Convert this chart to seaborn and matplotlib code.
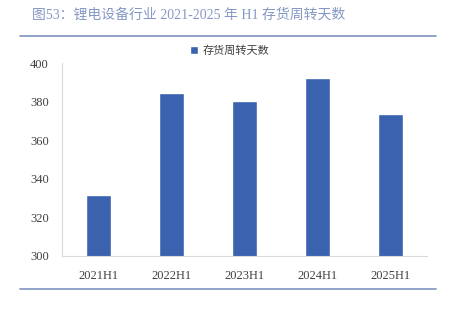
import matplotlib
matplotlib.use("Agg")
import matplotlib.pyplot as plt
import seaborn as sns
import pandas as pd
from matplotlib.lines import Line2D

categories = ["2021H1", "2022H1", "2023H1", "2024H1", "2025H1"]
values = [331.6, 384.6, 380.4, 392.3, 373.6]
yticks = [300, 320, 340, 360, 380, 400]
series_name = "存货周转天数"
title = "图53：锂电设备行业 2021-2025 年 H1 存货周转天数"

sns.set_theme(style="white")
plt.rcParams['font.family'] = ['Noto Sans CJK SC', 'DejaVu Sans']

df = pd.DataFrame({"cat": categories, "val": values, "series": series_name})

fig = plt.figure(figsize=(4.49, 3.11), dpi=100)
ax = fig.add_axes([62/449, 1-256/311, 365/449, (256-63)/311])
sns.barplot(data=df, x="cat", y="val", hue="series", palette=["#3a62ae"],
            width=0.33, ax=ax, legend=True, saturation=1)
ax.set_ylim(300, 400)
ax.set_xlim(-0.5, 4.5)
ax.set_yticks(yticks)
ax.set_xlabel("")
ax.set_ylabel("")
serif = ['Liberation Serif', 'DejaVu Serif']
for lab in ax.get_xticklabels() + ax.get_yticklabels():
    lab.set_family(serif)
    lab.set_fontsize(9)
    lab.set_color("#404040")
ax.tick_params(axis='x', length=0, pad=10)
ax.tick_params(axis='y', length=0, pad=9.5)
for s in ["top", "right"]:
    ax.spines[s].set_visible(False)
for s in ["left", "bottom"]:
    ax.spines[s].set_color("#d9d9d9")
    ax.spines[s].set_linewidth(0.8)

leg = ax.legend(loc="center", bbox_to_anchor=(0.46, 1.062), frameon=False,
                handlelength=0.7, handleheight=0.7, handletextpad=0.4,
                prop={'family': ['Noto Sans CJK SC', 'DejaVu Sans'], 'size': 8})
for t in leg.get_texts():
    t.set_color("#404040")

fig.text(32/449, 1-15/311, title, fontsize=10, color="#8597c4",
         va="center", ha="left", family=['Liberation Serif', 'Noto Sans CJK SC', 'DejaVu Sans'])
fig.add_artist(Line2D([20/449, 436/449], [1-36/311, 1-36/311], color="#7f93c0", lw=1.2))
fig.add_artist(Line2D([20/449, 436/449], [1-289/311, 1-289/311], color="#7f93c0", lw=1.2))

fig.savefig("out.png", dpi=100)
